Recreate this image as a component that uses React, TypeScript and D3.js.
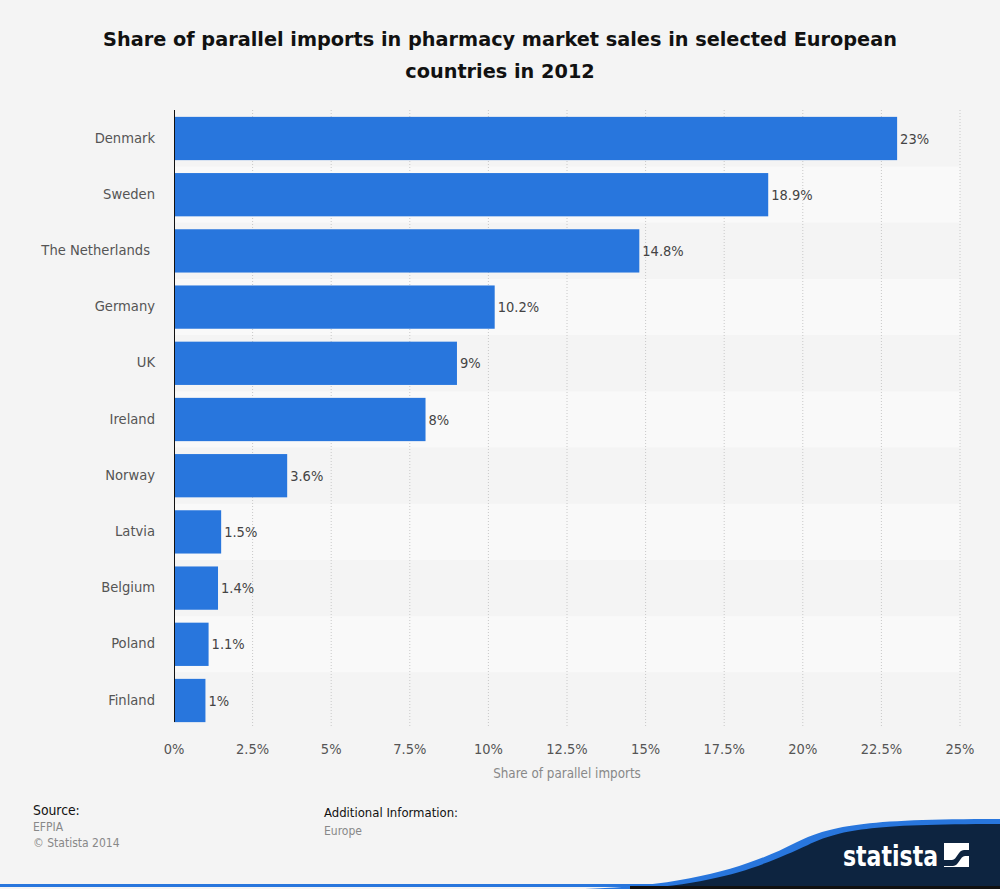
import React from "react";
import * as d3 from "d3";

const categories = ["Denmark", "Sweden", "The Netherlands", "Germany", "UK", "Ireland", "Norway", "Latvia", "Belgium", "Poland", "Finland"];
const values = [23, 18.9, 14.8, 10.2, 9, 8, 3.6, 1.5, 1.4, 1.1, 1];
const valueLabels = ["23%", "18.9%", "14.8%", "10.2%", "9%", "8%", "3.6%", "1.5%", "1.4%", "1.1%", "1%"];
const xTicks = [0, 2.5, 5, 7.5, 10, 12.5, 15, 17.5, 20, 22.5, 25];
const xTickLabels = ["0%", "2.5%", "5%", "7.5%", "10%", "12.5%", "15%", "17.5%", "20%", "22.5%", "25%"];
const titleLines = ["Share of parallel imports in pharmacy market sales in selected European", "countries in 2012"];

const W = 1000;
const H = 889;
const FONT = "'DejaVu Sans Condensed', 'DejaVu Sans', sans-serif";

export default function App() {
  const x = d3.scaleLinear().domain([0, 25]).range([174, 960]);
  const rows = d3.scaleBand<string>().domain(categories).range([110.4, 728.6]).padding(0);
  const step = rows.step();
  const barH = step * 0.77;

  return (
    <svg width={W} height={H} style={{ position: "absolute", left: 0, top: 0 }}>
      <rect x={0} y={0} width={W} height={H} fill="#f4f4f4" />
      {titleLines.map((t, i) => (
        <text key={i} x={500} y={46 + i * 32} textAnchor="middle" fontFamily="'DejaVu Sans', sans-serif" fontWeight="bold" fontSize={19.3} fill="#111">{t}</text>
      ))}
      {categories.map((c, i) => (
        <rect key={c} x={x(0)} y={rows(c)!} width={x(25) - x(0)} height={step} fill={i % 2 === 0 ? "#f4f4f4" : "#f9f9f9"} />
      ))}
      {xTicks.slice(1).map((t) => (
        <line key={t} x1={x(t)} x2={x(t)} y1={110} y2={728} stroke="#c8c8c8" strokeWidth={1} strokeDasharray="1,2" />
      ))}
      {categories.map((c, i) => {
        const y0 = rows(c)! + (step - barH) / 2;
        return (
          <g key={c}>
            <rect x={x(0)} y={y0} width={x(values[i]) - x(0)} height={barH} fill="#2876dd" />
            <text x={x(values[i]) + 3} y={y0 + barH / 2 + 5} fontFamily={FONT} fontSize={14.5} fill="#444">{valueLabels[i]}</text>
            <text x={i === 2 ? 150 : 155} y={rows(c)! + step / 2 + 4} textAnchor="end" fontFamily={FONT} fontSize={14.6} fill="#555">{c}</text>
          </g>
        );
      })}
      <line x1={174.5} x2={174.5} y1={110} y2={722} stroke="#111" strokeWidth={1} />
      {xTicks.map((t, i) => (
        <text key={t} x={x(t)} y={754} textAnchor="middle" fontFamily={FONT} fontSize={14.5} fill="#555">{xTickLabels[i]}</text>
      ))}
      <text x={567} y={778} textAnchor="middle" fontFamily={FONT} fontSize={13.3} fill="#888">Share of parallel imports</text>

      <text x={33} y={815} fontFamily={FONT} fontSize={13.8} fill="#111">Source:</text>
      <text x={33} y={831} fontFamily={FONT} fontSize={12} fill="#888">EFPIA</text>
      <text x={33} y={847} fontFamily={FONT} fontSize={12} fill="#888">© Statista 2014</text>
      <text x={324} y={817} fontFamily={FONT} fontSize={13} fill="#111">Additional Information:</text>
      <text x={324} y={835} fontFamily={FONT} fontSize={12} fill="#888">Europe</text>

      <rect x={0} y={884} width={W} height={3} fill="#2876dd" />
      <path d="M 585 889 C 690 886, 750 866, 795 843 C 830 826, 860 819, 1000 819 L 1000 889 Z" fill="#2876dd" />
      <path d="M 630 889 C 725 884, 770 862, 808 845 C 840 830, 868 824, 1000 824 L 1000 889 Z" fill="#0d2440" />
      <rect x={630} y={886} width={370} height={3} fill="#111" />
      <text x={843} y={866} fontFamily={FONT} fontWeight="bold" fontSize={29} textLength={95} lengthAdjust="spacingAndGlyphs" fill="#fff">statista</text>
      <rect x={944} y={843} width={25} height={24} fill="#fff" />
      <path d="M 944 860 L 952 860 C 957 860, 958 850, 964 850 L 969 850 L 969 856 L 965 856 C 960 856, 959 866, 953 866 L 944 866 Z" fill="#0d2440" />
    </svg>
  );
}
